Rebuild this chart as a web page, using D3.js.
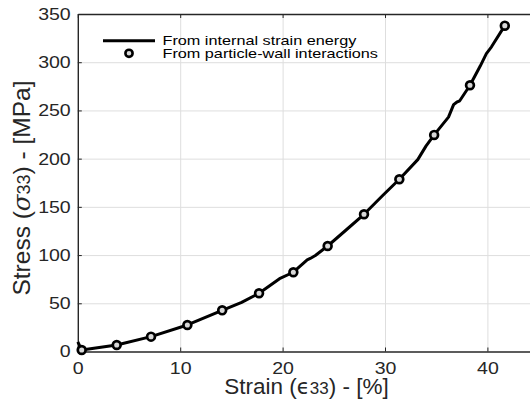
<!DOCTYPE html>
<html lang="en">
<head>
    <meta charset="UTF-8">
    <script src="https://d3js.org/d3.v7.min.js"></script>
    <style>
        body {margin: 0; background-color: #ffffff}
        svg {display: block; font-family: "Liberation Sans", Arial, Helvetica, sans-serif;}
        .tick text {fill: #262626; font-size: 17px;}
        .axis path, .axis line {stroke: #262626;}
        .grid line {stroke: #dedede; stroke-width: 1;}
        .grid path {display: none;}
        path.line {fill: none; stroke-width: 3px; stroke: #000; stroke-linejoin: round;}
    </style>
</head>
<body>
<svg class="chart"></svg>
<script type="text/javascript">
    // continuous curve (from internal strain energy)
    let lineStrain = [0, 0.38, 3.8, 7.15, 10.7, 14.1, 16.0, 17.7, 19.7, 21.05, 22.4, 22.7, 23.2, 24.4,
        26.2, 27.95, 29.8, 31.4, 33.2, 34.0, 34.8, 36.2, 36.7, 37.0, 37.3, 38.3, 39.3, 39.9, 40.4, 41.7];
    let lineStress = [10, 1.6, 6.7, 15.4, 27.5, 42.7, 51, 60.4, 75.5, 82.2, 95, 96.5, 99.5, 109.4,
        126, 142.3, 162, 178.6, 199, 213, 224.6, 243, 256, 258.5, 260, 276.1, 296, 309, 316, 337.9];

    // markers (from particle-wall interactions)
    let pointStrain = [0.38, 3.8, 7.15, 10.7, 14.1, 17.7, 21.05, 24.4, 27.95, 31.4, 34.8, 38.3, 41.7];
    let pointStress = [1.6, 6.7, 15.4, 27.5, 42.7, 60.4, 82.2, 109.4, 142.3, 178.6, 224.6, 276.1, 337.9];

    let xTicks = [0, 10, 20, 30, 40];
    let yTicks = [0, 50, 100, 150, 200, 250, 300, 350];
    let legendLabels = ['From internal strain energy', 'From particle-wall interactions'];

    let chart_width = 530;
    let chart_height = 403;
    let m_left = 77.8, m_top = 14, m_bottom = 351.5;
    let tickStretch = 1.15, legendStretch = 1.17;

    var svg = d3.select('.chart')
        .attr('width', chart_width)
        .attr('height', chart_height);

    var x_range = d3.scaleLinear()
        .domain([0, 45])
        .range([m_left, m_left + 45 * 10.24]);

    var y_range = d3.scaleLinear()
        .domain([0, 350])
        .range([m_bottom, m_top]);

    let plot_w = x_range(45) - m_left;
    let plot_h = m_bottom - m_top;

    // grid
    svg.append('g').attr('class', 'grid')
        .attr('transform', 'translate(0,' + m_bottom + ')')
        .call(d3.axisBottom(x_range).tickValues(xTicks.slice(1)).tickSize(-plot_h).tickFormat(''));
    svg.append('g').attr('class', 'grid')
        .attr('transform', 'translate(' + m_left + ',0)')
        .call(d3.axisLeft(y_range).tickValues(yTicks.slice(1, -1)).tickSize(-plot_w).tickFormat(''));

    // axes
    svg.append('g').attr('class', 'axis')
        .attr('transform', 'translate(0,' + m_bottom + ')')
        .call(d3.axisBottom(x_range).tickValues(xTicks).tickSize(-4).tickSizeOuter(0).tickPadding(10.5))
        .call(g => g.select('.domain').attr('stroke-width', 1.4))
        .call(g => g.selectAll('.tick text').attr('transform', 'scale(' + tickStretch + ',1)'));
    svg.append('g').attr('class', 'axis')
        .attr('transform', 'translate(0,' + m_top + ')')
        .call(d3.axisTop(x_range).tickValues(xTicks).tickSize(-4).tickSizeOuter(0).tickFormat(''))
        .call(g => g.select('.domain').attr('stroke-width', 1.4));
    svg.append('g').attr('class', 'axis')
        .attr('transform', 'translate(' + m_left + ',0)')
        .call(d3.axisLeft(y_range).tickValues(yTicks).tickSize(-4).tickSizeOuter(0).tickPadding(7))
        .call(g => g.select('.domain').attr('stroke-width', 1.4))
        .call(g => g.selectAll('.tick text')
            .attr('x', -7.1 / tickStretch)
            .attr('transform', 'scale(' + tickStretch + ',1)'));
    svg.selectAll('.axis').attr('font-family', null).attr('font-size', null);

    // axis titles
    var xt = svg.append('text')
        .attr('x', 306.5).attr('y', 394)
        .attr('text-anchor', 'middle')
        .attr('fill', '#262626')
        .style('font-size', '22.5px');
    xt.append('tspan').text('Strain (');
    xt.append('tspan').text('\u03F5').style('font-family', '"DejaVu Sans"').style('font-size', '21px');
    xt.append('tspan').text('33').style('font-size', '17px');
    xt.append('tspan').text(') - [%]');

    var yt = svg.append('text')
        .attr('transform', 'translate(30,188) rotate(-90)')
        .attr('text-anchor', 'middle')
        .attr('fill', '#262626')
        .style('font-size', '24.5px');
    yt.append('tspan').text('Stress (');
    yt.append('tspan').text('\u03C3').style('font-style', 'italic').style('font-family', '"DejaVu Serif"');
    yt.append('tspan').text('33').style('font-size', '18px');
    yt.append('tspan').text(') - [MPa]');

    // line
    var lineData = lineStrain.map((d, i) => [d, lineStress[i]]);
    svg.append('path')
        .datum(lineData)
        .attr('class', 'line')
        .attr('d', d3.line()
            .x(d => x_range(d[0]))
            .y(d => y_range(d[1])));

    // markers
    var pointData = pointStrain.map((d, i) => [d, pointStress[i]]);
    svg.selectAll('circle.pt').data(pointData).enter().append('circle')
        .attr('class', 'pt')
        .attr('cx', d => x_range(d[0]))
        .attr('cy', d => y_range(d[1]))
        .attr('r', 3.9)
        .attr('fill', '#d8d8d8')
        .attr('stroke', '#000')
        .attr('stroke-width', 2.7);

    // legend
    var lg = svg.append('g').style('font-size', '13.6px');
    lg.append('line')
        .attr('x1', 103).attr('x2', 155)
        .attr('y1', 40.7).attr('y2', 40.7)
        .attr('stroke', '#000').attr('stroke-width', 3);
    lg.append('circle')
        .attr('cx', 129).attr('cy', 53.3).attr('r', 3.6)
        .attr('fill', '#d8d8d8').attr('stroke', '#000').attr('stroke-width', 2.6);
    lg.selectAll('text').data(legendLabels).enter().append('text')
        .attr('x', 159.3 / legendStretch)
        .attr('y', (d, i) => 45 + i * 12.6)
        .attr('transform', 'scale(' + (legendStretch * 1.02) + ',1)')
        .attr('fill', '#000')
        .text(d => d);
</script>
</body>
</html>
